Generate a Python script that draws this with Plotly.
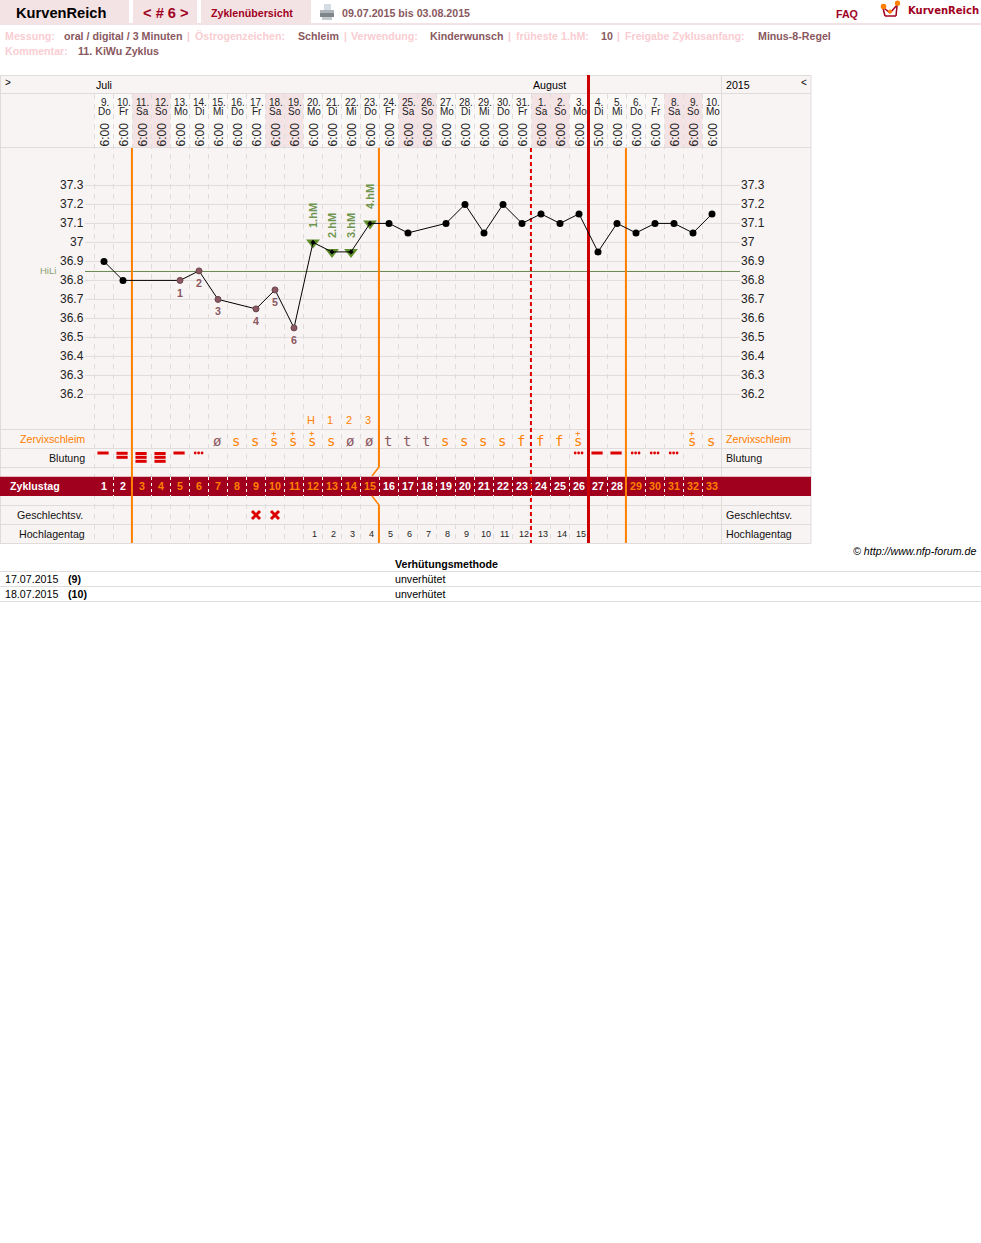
import plotly.graph_objects as go

W, H = 981, 1243
# ---------- data ----------
cycle_days = list(range(1, 34))
dates = ["9.","10.","11.","12.","13.","14.","15.","16.","17.","18.","19.","20.","21.","22.","23.","24.","25.","26.","27.","28.","29.","30.","31.","1.","2.","3.","4.","5.","6.","7.","8.","9.","10."]
weekdays = ["Do","Fr","Sa","So","Mo","Di","Mi","Do","Fr","Sa","So","Mo","Di","Mi","Do","Fr","Sa","So","Mo","Di","Mi","Do","Fr","Sa","So","Mo","Di","Mi","Do","Fr","Sa","So","Mo"]
times = ["6:00"]*26 + ["5:00"] + ["6:00"]*6
temp_days = [1,2,5,6,7,9,10,11,12,13,14,15,16,17,19,20,21,22,23,24,25,26,27,28,29,30,31,32,33]
temps = [36.9,36.8,36.8,36.85,36.7,36.65,36.75,36.55,37.0,36.95,36.95,37.1,37.1,37.05,37.1,37.2,37.05,37.2,37.1,37.15,37.1,37.15,36.95,37.1,37.05,37.1,37.1,37.05,37.15]
low_days = [5,6,7,9,10,11]
low_temps = [36.8,36.85,36.7,36.65,36.75,36.55]
low_labels = ["1","2","3","4","5","6"]
high_days = [12,13,14,15]
high_temps = [37.0,36.95,36.95,37.1]
high_labels = ["1.hM","2.hM","3.hM","4.hM"]
peak_labels = {12:"H",13:"1",14:"2",15:"3"}
y_ticks = [37.3,37.2,37.1,37.0,36.9,36.8,36.7,36.6,36.5,36.4,36.3,36.2]
y_tick_labels = ["37.3","37.2","37.1","37","36.9","36.8","36.7","36.6","36.5","36.4","36.3","36.2"]
hili = 36.847
mucus = {7:"ø",8:"s",9:"s",10:"s+",11:"s+",12:"s+",13:"s",14:"ø",15:"ø",16:"t",17:"t",18:"t",19:"s",20:"s",21:"s",22:"s",23:"f",24:"f",25:"f",26:"s+",32:"s+",33:"s"}
bleeding = {1:1,2:2,3:3,4:3,5:1,6:0,26:0,27:1,28:1,29:0,30:0,31:0}
intercourse_days = [9,10]
high_phase_days = list(range(12,27))
high_phase_labels = list(range(1,16))
white_cycle_days = [1,2]+list(range(16,29))

# ---------- colours ----------
PINK="#f4e3e5"; BG="#f9f4f4"; LIGHT="#fbf8f8"; GRID="#e0dcdc"; CRIM="#a0001e"; ORANGE="#ff8000"; RED="#dd0000"
BROWN="#8a5860"; PALE="#f9cdd2"; GREEN="#5f8f2c"; GREENTXT="#6f9650"
FONT="Liberation Sans"
PT8=10.67

# pixel -> axis helpers (axes fill the page)
def dx(px): return (px-104)/19+1
X0, X1 = dx(0), dx(W)
Y_ORG=185.4
def ty(py): return 37.3-(py-Y_ORG)/190
Y0, Y1 = ty(H), ty(0)

shapes=[]; ann=[]
def rect(x0,y0,x1,y1,fill,xref="paper"):
    a,b=(x0/W,x1/W) if xref=="paper" else (x0,x1)
    shapes.append(dict(type="rect",xref=xref,yref="paper",x0=a,x1=b,y0=1-y0/H,y1=1-y1/H,fillcolor=fill,line_width=0,layer="below"))
def hline(y,x0,x1,c=GRID,w=1):
    shapes.append(dict(type="line",xref="paper",yref="paper",x0=x0/W,x1=x1/W,y0=1-y/H,y1=1-y/H,line=dict(color=c,width=w),layer="below"))
def vline(d,y0,y1,c,w=1,dash=None):
    shapes.append(dict(type="line",xref="x",yref="paper",x0=d,x1=d,y0=1-y0/H,y1=1-y1/H,line=dict(color=c,width=w,dash=dash or "solid"),layer="below"))
def seg(x0,y0,x1,y1,c,w=1):
    shapes.append(dict(type="line",xref="paper",yref="paper",x0=x0/W,x1=x1/W,y0=1-y0/H,y1=1-y1/H,line=dict(color=c,width=w),layer="above"))
def dot(cx,cy,r,c):
    shapes.append(dict(type="circle",xref="paper",yref="paper",x0=(cx-r)/W,x1=(cx+r)/W,y0=1-(cy+r)/H,y1=1-(cy-r)/H,fillcolor=c,line_width=0))
def text(s,x,y,size=11,color="#000",bold=False,anchor="left",xref="paper",font=FONT,angle=0,italic=False):
    xx = x/W if xref=="paper" else x
    if bold: s=f"<b>{s}</b>"
    if italic: s=f"<i>{s}</i>"
    ann.append(dict(text=s,x=xx,y=1-y/H,xref=xref,yref="paper",xanchor=anchor,yanchor="middle",showarrow=False,borderpad=0,borderwidth=0,
                    textangle=angle,font=dict(family=font,size=size,color=color)))

# ---------- page header ----------
rect(0,0,129,23,PINK); rect(133,0,197,23,PINK); rect(201,0,311,23,PINK)
rect(0,23,W,25,PINK)
text("KurvenReich",16,13,14.67,"#000",True)
text("&lt; # 6 &gt;",166,13,14.67,CRIM,True,"center")
text("Zyklenübersicht",211,12.5,PT8,CRIM,True)
# printer icon
rect(324,4,331,10,"#d3dce4"); rect(320,10,334,16,"#aeb4b8"); rect(320,13,334,17,"#7f868b"); rect(322,17,332,20,"#c4c9cc")
text("09.07.2015 bis 03.08.2015",342,12.5,PT8,BROWN,True)
text("FAQ",836,14,PT8,CRIM,True)
# logo
seg(883,8,885,16,CRIM,1.5); seg(885,16,896,16,CRIM,1.5); seg(896,16,897,6,CRIM,1.5)
seg(884,8,890,13,CRIM,1.5); seg(890,13,898,4,CRIM,1.5)
dot(883.5,6.5,2.8,ORANGE); dot(890,11.5,2,ORANGE); dot(897.5,3.2,2.6,ORANGE)
text("KurvenReich",908,10.5,10,CRIM,True,font="DejaVu Sans")
meta=[(5,"Messung:",PALE),(64,"oral / digital / 3 Minuten",BROWN),(187,"|",PALE),(195,"Östrogenzeichen:",PALE),(298,"Schleim",BROWN),(344,"|",PALE),(351,"Verwendung:",PALE),(430,"Kinderwunsch",BROWN),(508,"|",PALE),(516,"früheste 1.hM:",PALE),(601,"10",BROWN),(617,"|",PALE),(625,"Freigabe Zyklusanfang:",PALE),(758,"Minus-8-Regel",BROWN)]
for x,s,c in meta: text(s,x,36,PT8,c,True)
text("Kommentar:",5,51,PT8,PALE,True); text("11. KiWu Zyklus",78,51,PT8,BROWN,True)

# ---------- table frame ----------
rect(0,75,811,543,BG)
for d,wd in zip(cycle_days,weekdays):
    rect(d-0.5,94,d+0.5,147,PINK if wd in("Sa","So") else LIGHT,"x")
for y in [75.5,93.5,147.5,429.5,448.5,467.5,505.5,524.5,543.5]:
    hline(y,0,811)
for xv in [0.5,721.5,811]:
    shapes.append(dict(type="line",xref="paper",yref="paper",x0=xv/W,x1=xv/W,y0=1-75/H,y1=1-543/H,line=dict(color=GRID,width=1),layer="below"))
# temperature grid
for t in y_ticks:
    shapes.append(dict(type="line",xref="paper",yref="y",x0=85/W,x1=740/W,y0=t,y1=t,line=dict(color=GRID,width=1),layer="below"))
# day dashes
for d in cycle_days:
    vline(d-0.5,94,543,GRID,1,"5px,5px")
rect(0,476.7,811,496,CRIM)
for d in cycle_days[1:]:
    vline(d-0.5,477,496,"#ffffff",1,"3px,3px")
shapes.append(dict(type="line",xref="paper",yref="y",x0=85/W,x1=740/W,y0=hili,y1=hili,line=dict(color="#6a8752",width=1),layer="below"))
# phase lines
vline(2.47,148,543,ORANGE,2)
vline(15.47,148,467,ORANGE,2); vline(15.47,505,543,ORANGE,2)
seg(379,467,372,476,ORANGE,1.5); seg(372,496,379,505,ORANGE,1.5)
vline(28.47,148,543,ORANGE,2)
vline(23.47,148,543,RED,2,"4px,3px")
vline(26.5,75,543,"#cc0000",3)

# ---------- labels ----------
text("&gt;",5,83,10); text("&lt;",804,83,10,anchor="center")
text("Juli",96,85,PT8); text("August",533,85,PT8); text("2015",726,85,PT8)
for d,a,b,c in zip(cycle_days,dates,weekdays,times):
    text(a,d+0.05,102,10,"#222",anchor="center",xref="x")
    text(b,d+0.05,111,10,"#222",anchor="center",xref="x")
    text(c,d,134.5,12,"#222",anchor="center",xref="x",angle=-90)
for t,s in zip(y_ticks,y_tick_labels):
    y=Y_ORG+(37.3-t)*190
    text(s,84,y,12,"#222",anchor="right")
    text(s,741,y,12,"#222")
text("HiLi",40,270.5,9.5,"#8aa070")
text("Zervixschleim",85,439,PT8,ORANGE,anchor="right"); text("Zervixschleim",726,439,PT8,ORANGE)
text("Blutung",85,457.5,PT8,"#111",anchor="right"); text("Blutung",726,457.5,PT8,"#111")
text("Zyklustag",10,486,PT8,"#fff",True)
text("Geschlechtsv.",83,515,PT8,"#111",anchor="right"); text("Geschlechtsv.",726,515,PT8,"#111")
text("Hochlagentag",85,534,PT8,"#111",anchor="right"); text("Hochlagentag",726,534,PT8,"#111")
for d in cycle_days:
    text(str(d),d+0.02,486,PT8,"#fff" if d in white_cycle_days else ORANGE,True,"center","x")
for d,n in zip(high_phase_days,high_phase_labels):
    text(str(n),d+0.09,534,9,"#222",anchor="center",xref="x")
for d,s in peak_labels.items():
    text(s,d-0.1,420,11,ORANGE,anchor="center",xref="x")
for d,s in mucus.items():
    ch=s[0]
    c = BROWN if ch in("ø","t") else ORANGE
    text(ch,d-0.05,441,14,c,False,"center","x","DejaVu Sans Mono")
    if s.endswith("+"):
        text("+",d-0.05,433,9,c,False,"center","x","DejaVu Sans Mono")
for d,s,off in zip(low_days,low_labels,[293,283,311,321,302,340]):
    text(s,d,off,PT8,BROWN,True,"center","x")
for d,s,off in zip(high_days,high_labels,[216,226,226,197]):
    text(s,d,off,11,GREENTXT,True,"center","x",angle=-90)
text("©&nbsp;http://www.nfp-forum.de",976,551,PT8,"#000",anchor="right",italic=True)
text("Verhütungsmethode",395,564,PT8,"#000",True)
hline(571.5,0,W); hline(586.5,0,W); hline(601.5,0,W)
text("17.07.2015",5,579,PT8); text("(9)",68,579,PT8,"#000",True); text("unverhütet",395,579,PT8)
text("18.07.2015",5,594,PT8); text("(10)",68,594,PT8,"#000",True); text("unverhütet",395,594,PT8)

# ---------- traces ----------
fig=go.Figure()
fig.add_scatter(x=high_days,y=high_temps,mode="markers",marker=dict(color=GREEN,size=12,symbol="triangle-down"),hoverinfo="skip")
fig.add_scatter(x=temp_days,y=temps,mode="lines",line=dict(color="#000",width=1),hoverinfo="skip")
fig.add_scatter(x=[d for d in temp_days if d not in low_days+high_days],
                y=[t for d,t in zip(temp_days,temps) if d not in low_days+high_days],
                mode="markers",marker=dict(color="#000",size=7),hoverinfo="skip")
fig.add_scatter(x=low_days,y=low_temps,mode="markers",marker=dict(color=BROWN,size=6,line=dict(color="#6a444c",width=1)),hoverinfo="skip")
fig.add_scatter(x=high_days,y=high_temps,mode="markers",marker=dict(color="#000",size=4,symbol="diamond"),hoverinfo="skip")
# bleeding
bar_x=[];bar_y=[];dot_x=[];dot_y=[]
rows={1:[453],2:[453.3,457.3],3:[453.5,457.3,461.3]}
for d,l in bleeding.items():
    if l==0:
        for o in(-0.18,0,0.18):
            dot_x.append(d+o-0.02); dot_y.append(ty(453))
    else:
        for py in rows[l]:
            bar_x.append(d-0.05); bar_y.append(ty(py))
fig.add_scatter(x=bar_x,y=bar_y,mode="markers",marker=dict(symbol="line-ew",size=8,line=dict(color=RED,width=3)),hoverinfo="skip")
fig.add_scatter(x=dot_x,y=dot_y,mode="markers",marker=dict(color=RED,size=2.8),hoverinfo="skip")
fig.add_scatter(x=intercourse_days,y=[ty(515)]*len(intercourse_days),mode="markers",marker=dict(symbol="x-thin",size=8,line=dict(color=RED,width=3)),hoverinfo="skip")

fig.update_layout(width=W,height=H,margin=dict(l=0,r=0,t=0,b=0),paper_bgcolor="#fff",plot_bgcolor="rgba(0,0,0,0)",showlegend=False,
    shapes=shapes,annotations=ann,
    xaxis=dict(visible=False,range=[X0,X1],fixedrange=True),
    yaxis=dict(visible=False,range=[Y0,Y1],fixedrange=True))
fig.write_html("out.html",config=dict(displayModeBar=False),post_script="document.body.style.margin='0';document.body.style.overflow='hidden';")
